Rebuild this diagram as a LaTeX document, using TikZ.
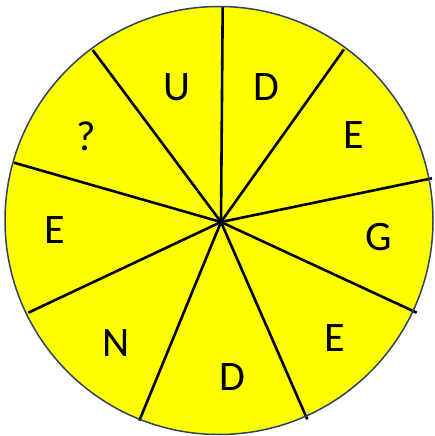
\documentclass[tikz,border=0pt]{standalone}
\usepackage{fontspec}
\setmainfont{Carlito}
\definecolor{rim}{HTML}{2F4360}
\definecolor{fillyellow}{HTML}{FFFF00}
\tikzset{
  spoke/.style={line width=2.6pt, black},
  letter/.style={font=\fontsize{42}{44}\selectfont, inner sep=0pt, anchor=center}
}
\begin{document}
\begin{tikzpicture}[x=1pt,y=-1pt]
\useasboundingbox (0,0) rectangle (434,436);
\fill[fillyellow] (219,220.5) circle (214);
\coordinate (hub) at (221,222);
\foreach \p in {(222.7,6.5),(344,49.3),(432,178.3),(416.7,312.7),(307.3,419.3),(139.3,420.7),(28.3,312.7),(14,162.7),(92.7,50)}
  \draw[spoke] (hub) -- \p;
\draw[rim, line width=1.5pt] (219,220.5) circle (214);
\node[letter] (l1) at (176.7,87.3) {U};
\node[letter] (l2) at (266.7,87.3) {D};
\node[letter] (l3) at (353.3,135) {E};
\node[letter] (l4) at (378.3,236.7) {G};
\node[letter] (l5) at (335,338.3) {E};
\node[letter] (l6) at (232.3,376.7) {D};
\node[letter] (l7) at (115.7,343.3) {N};
\node[letter] (l8) at (55,230) {E};
\node[letter] (l9) at (86,136.7) {?};
\end{tikzpicture}
\end{document}
